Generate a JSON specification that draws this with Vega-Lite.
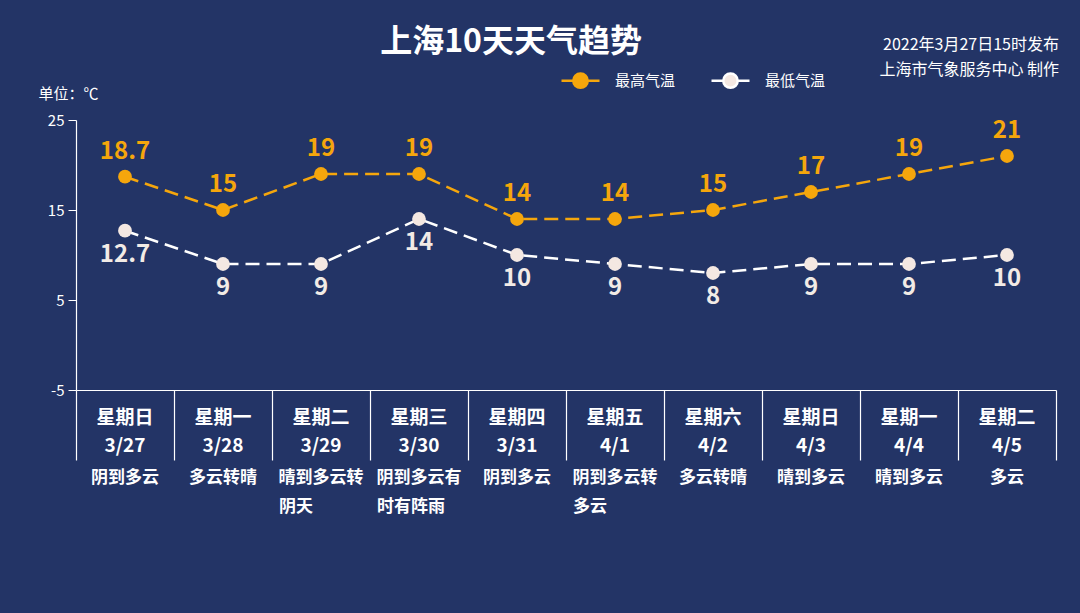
{
  "$schema": "https://vega.github.io/schema/vega-lite/v6.json",
  "autosize": "none",
  "width": 980,
  "height": 270,
  "padding": {"left": 76, "top": 120, "right": 24, "bottom": 223},
  "background": "#233466",
  "title": {
    "text": "上海10天天气趋势",
    "anchor": "middle",
    "frame": "group",
    "dx": -55,
    "offset": -22,
    "fontSize": 32,
    "fontWeight": "bold",
    "color": "#ffffff",
    "font": "Noto Sans CJK SC"
  },
  "config": {
    "view": {"stroke": null},
    "font": "Noto Sans CJK SC",
    "text": {"font": "Noto Sans CJK SC"}
  },
  "data": {
    "values": [
      {"date": "3/27", "week": "星期日", "w1": "阴到多云", "w2": "", "最高气温": 18.7, "最低气温": 12.7},
      {"date": "3/28", "week": "星期一", "w1": "多云转晴", "w2": "", "最高气温": 15, "最低气温": 9},
      {"date": "3/29", "week": "星期二", "w1": "晴到多云转", "w2": "阴天", "最高气温": 19, "最低气温": 9},
      {"date": "3/30", "week": "星期三", "w1": "阴到多云有", "w2": "时有阵雨", "最高气温": 19, "最低气温": 14},
      {"date": "3/31", "week": "星期四", "w1": "阴到多云", "w2": "", "最高气温": 14, "最低气温": 10},
      {"date": "4/1", "week": "星期五", "w1": "阴到多云转", "w2": "多云", "最高气温": 14, "最低气温": 9},
      {"date": "4/2", "week": "星期六", "w1": "多云转晴", "w2": "", "最高气温": 15, "最低气温": 8},
      {"date": "4/3", "week": "星期日", "w1": "晴到多云", "w2": "", "最高气温": 17, "最低气温": 9},
      {"date": "4/4", "week": "星期一", "w1": "晴到多云", "w2": "", "最高气温": 19, "最低气温": 9},
      {"date": "4/5", "week": "星期二", "w1": "多云", "w2": "", "最高气温": 21, "最低气温": 10}
    ]
  },
  "encoding": {
    "x": {
      "field": "date",
      "type": "ordinal",
      "sort": null,
      "scale": {"paddingInner": 0, "paddingOuter": 0},
      "axis": {
        "title": null,
        "labels": false,
        "domainColor": "#ffffff",
        "domainWidth": 1.2,
        "tickColor": "#ffffff",
        "tickWidth": 1.2,
        "tickSize": 70,
        "tickBand": "extent"
      }
    }
  },
  "layer": [
    {
      "transform": [{"fold": ["最高气温", "最低气温"], "as": ["key", "value"]}],
      "mark": {"type": "line", "strokeDash": [14, 7], "strokeWidth": 2.5},
      "encoding": {
        "y": {
          "field": "value",
          "type": "quantitative",
          "scale": {"domain": [-5, 25], "nice": false, "zero": false},
          "axis": {
            "values": [25, 15, 5, -5],
            "labelExpr": "'' + datum.value",
            "grid": false,
            "title": "单位：℃",
            "titleAngle": 0,
            "titleX": -38,
            "titleY": -27,
            "titleAlign": "left",
            "titleBaseline": "middle",
            "titleFontSize": 15,
            "titleFontWeight": "normal",
            "titleColor": "#ffffff",
            "domainColor": "#ffffff",
            "domainWidth": 1.2,
            "tickColor": "#ffffff",
            "tickSize": 8,
            "labelColor": "#ffffff",
            "labelFontSize": 15,
            "labelPadding": 4
          }
        },
        "color": {
          "field": "key",
          "type": "nominal",
          "scale": {"domain": ["最高气温", "最低气温"], "range": ["#f5a60c", "#ffffff"]},
          "legend": {
            "title": null,
            "orient": "none",
            "direction": "horizontal",
            "legendX": 484,
            "legendY": -60,
            "symbolType": "M-1,0H-0.36M0.36,0H1M0.38,0A0.38,0.38,0,1,1,-0.38,0A0.38,0.38,0,1,1,0.38,0Z",
            "symbolSize": 1444,
            "symbolStrokeWidth": 2.5,
            "labelColor": "#ffffff",
            "labelFontSize": 15,
            "labelOffset": 14,
            "columnPadding": 30,
            "encode": {
              "symbols": {
                "update": {
                  "fill": {"scale": "fill", "field": "value"},
                  "fillOpacity": {"value": 1}
                }
              }
            }
          }
        }
      }
    },
    {
      "transform": [{"fold": ["最高气温", "最低气温"], "as": ["key", "value"]}],
      "mark": {"type": "point", "filled": true, "size": 190, "opacity": 1},
      "encoding": {
        "y": {"field": "value", "type": "quantitative"},
        "fill": {
          "field": "key",
          "type": "nominal",
          "scale": {"domain": ["最高气温", "最低气温"], "range": ["#f5a60c", "#f4e8e2"]},
          "legend": null
        }
      }
    },
    {
      "mark": {"type": "text", "dy": -25, "fontSize": 24, "fontWeight": "bold", "color": "#f5a60c"},
      "encoding": {
        "y": {"field": "最高气温", "type": "quantitative"},
        "text": {"field": "最高气温", "type": "quantitative"}
      }
    },
    {
      "mark": {"type": "text", "dy": 24, "fontSize": 24, "fontWeight": "bold", "color": "#f2ebe6"},
      "encoding": {
        "y": {"field": "最低气温", "type": "quantitative"},
        "text": {"field": "最低气温", "type": "quantitative"}
      }
    },
    {
      "mark": {"type": "text", "fontSize": 19, "fontWeight": "bold", "color": "#ffffff"},
      "encoding": {
        "y": {"datum": -8.1},
        "text": {"field": "week"}
      }
    },
    {
      "mark": {"type": "text", "fontSize": 19, "fontWeight": "bold", "color": "#ffffff"},
      "encoding": {
        "y": {"datum": -11.2},
        "text": {"field": "date"}
      }
    },
    {
      "mark": {"type": "text", "fontSize": 17, "fontWeight": "bold", "color": "#ffffff"},
      "encoding": {
        "y": {"datum": -14.8},
        "text": {"field": "w1"}
      }
    },
    {
      "mark": {"type": "text", "fontSize": 17, "fontWeight": "bold", "color": "#ffffff", "align": "left", "dx": -42},
      "encoding": {
        "y": {"datum": -18.0},
        "text": {"field": "w2"}
      }
    },
    {
      "data": {"values": [{"d": "4/5", "t": "2022年3月27日15时发布", "v": 33.3}, {"d": "4/5", "t": "上海市气象服务中心 制作", "v": 30.6}]},
      "mark": {"type": "text", "fontSize": 16, "color": "#ffffff", "align": "right", "dx": 52},
      "encoding": {
        "x": {"field": "d", "type": "ordinal"},
        "y": {"field": "v", "type": "quantitative"},
        "text": {"field": "t"}
      }
    }
  ]
}
